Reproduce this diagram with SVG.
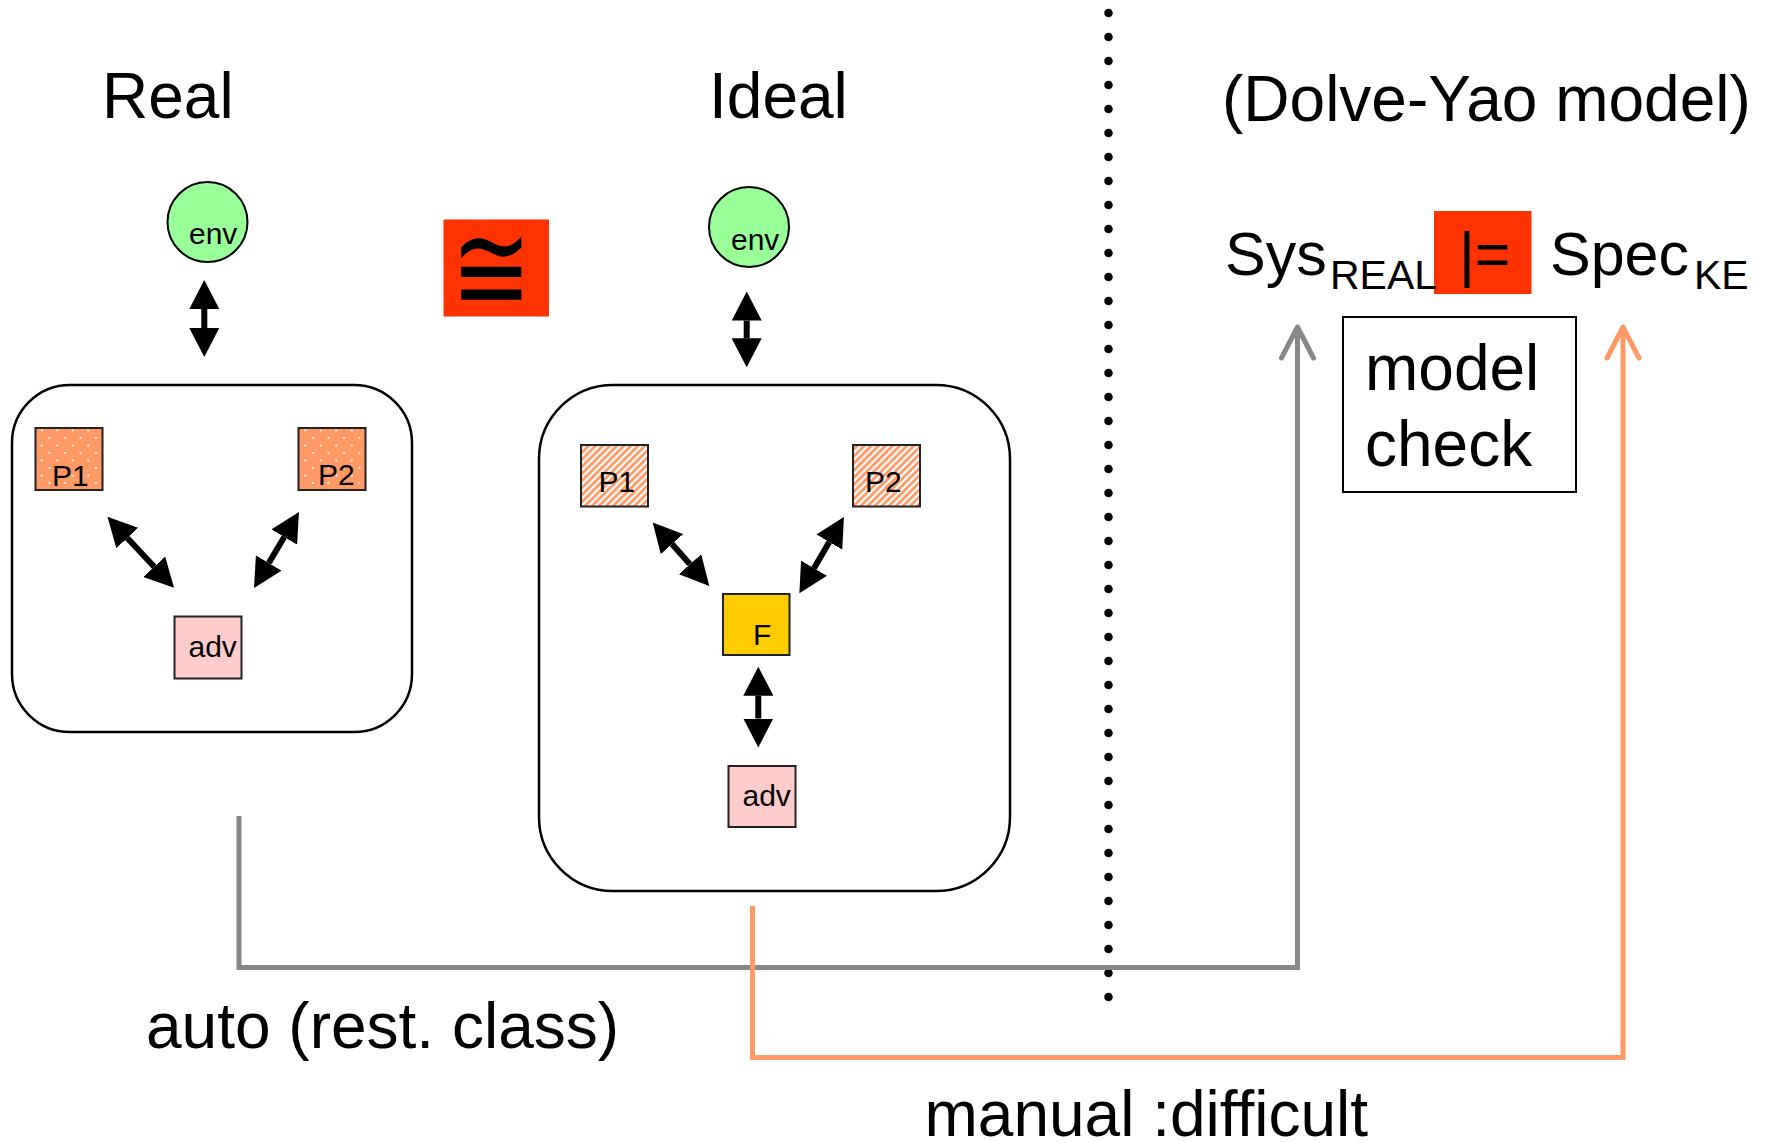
<svg xmlns="http://www.w3.org/2000/svg" width="1770" height="1142" viewBox="0 0 1770 1142">
<style>
text{font-family:"Liberation Sans",Arial,sans-serif;fill:#000}
.big{font-size:64px}
.mid{font-size:61px}
.sub{font-size:41px}
.sm{font-size:30px}
.panel{fill:#fff;stroke:#000;stroke-width:2.5}
.box{stroke:#222;stroke-width:2}
.env{fill:#99FF99;stroke:#000;stroke-width:2}
.dbl{stroke:#000;stroke-width:6;fill:none;marker-start:url(#ah);marker-end:url(#ah)}
.conn{fill:none;stroke-width:5}
.grey{stroke:#888}
.orng{stroke:#FF9966}
.chev{fill:none;stroke-width:5;stroke-linecap:round;stroke-linejoin:round}
</style>
<defs>
<marker id="ah" markerUnits="userSpaceOnUse" viewBox="0 0 30 30" refX="0" refY="15" markerWidth="30" markerHeight="30" orient="auto-start-reverse">
<path d="M0,0 L29,15 L0,30 Z" fill="#000"/>
</marker>
<pattern id="dots" patternUnits="userSpaceOnUse" width="15.5" height="15" x="0" y="0">
<rect width="15.5" height="15" fill="#FF9966"/>
<circle cx="3" cy="3" r="1" fill="#fff"/>
<circle cx="10.75" cy="10.5" r="1" fill="#fff"/>
</pattern>
<pattern id="hatch" patternUnits="userSpaceOnUse" width="5" height="5" patternTransform="rotate(45)">
<rect width="5" height="5" fill="#fff"/>
<rect width="2.8" height="5" fill="#FF9966"/>
</pattern>
</defs>
<rect width="1770" height="1142" fill="#fff"/>

<g id="titles">
<text class="big" x="102" y="118">Real</text>
<text class="big" x="709" y="118">Ideal</text>
<text class="big" x="1222" y="121">(Dolve-Yao model)</text>
</g>

<g id="real-panel"><rect class="panel" x="12" y="385" width="400" height="347" rx="58" ry="58"/></g>
<g id="ideal-panel"><rect class="panel" x="539" y="385" width="471" height="506" rx="74" ry="74"/></g>

<g id="real-env"><circle class="env" cx="207.5" cy="222" r="40"/><text class="sm" x="189" y="243.6">env</text></g>
<g id="real-p1"><rect class="box" x="35.5" y="428" width="67" height="62" fill="url(#dots)"/><text class="sm" x="52" y="485.5" font-size="29">P1</text></g>
<g id="real-p2"><rect class="box" x="298.5" y="428" width="67" height="62" fill="url(#dots)"/><text class="sm" x="318" y="484.5" font-size="29">P2</text></g>
<g id="real-adv"><rect class="box" x="174.5" y="616.5" width="67" height="62" fill="#FFCCCC"/><text class="sm" x="188.5" y="656.8">adv</text></g>

<g id="cong"><rect x="443.5" y="219.5" width="105.5" height="97" fill="#FF3300"/><text transform="matrix(1 0 0 1.3 491.5 311)" x="0" y="0" text-anchor="middle" font-size="96" style="font-family:'DejaVu Serif','Liberation Serif',serif">≅</text></g>

<g id="ideal-env"><circle class="env" cx="749" cy="227" r="40"/><text class="sm" x="731" y="250">env</text></g>
<g id="ideal-p1"><rect class="box" x="581" y="445" width="67" height="61.5" fill="url(#hatch)"/><text class="sm" x="598.5" y="492" font-size="29">P1</text></g>
<g id="ideal-p2"><rect class="box" x="853" y="445" width="67" height="61.5" fill="url(#hatch)"/><text class="sm" x="865" y="492" font-size="29">P2</text></g>
<g id="ideal-f"><rect class="box" x="723" y="594" width="66.5" height="61" fill="#FFCC00"/><text class="sm" x="753" y="644.6" font-size="28">F</text></g>
<g id="ideal-adv"><rect class="box" x="728.5" y="766" width="67" height="61" fill="#FFCCCC"/><text class="sm" x="742.5" y="805.8">adv</text></g>

<g id="divider"><line x1="1108.5" y1="13" x2="1108.5" y2="999" stroke="#000" stroke-width="8.5" stroke-dasharray="0 24" stroke-linecap="round"/></g>

<g id="formula">
<rect x="1434" y="211" width="97.5" height="83" fill="#FF3300"/>
<text class="mid" x="1225" y="275">Sys</text>
<text class="sub" x="1330" y="289">REAL</text>
<text class="mid" x="1459" y="275">|=</text>
<text class="mid" x="1550" y="275">Spec</text>
<text class="sub" x="1694" y="289">KE</text>
</g>

<g id="model-check">
<rect x="1343" y="317" width="233" height="175" fill="#fff" stroke="#000" stroke-width="2"/>
<text class="big" x="1365" y="390">model</text>
<text class="big" x="1365" y="466">check</text>
</g>

<g id="connectors">
<line class="dbl" x1="204.3" y1="309" x2="204.3" y2="328"/>
<line class="dbl" x1="127.3" y1="538" x2="154.2" y2="566.7"/>
<line class="dbl" x1="284.2" y1="537" x2="268.8" y2="563"/>
<line class="dbl" x1="746.7" y1="320.6" x2="746.7" y2="338.3"/>
<line class="dbl" x1="672" y1="544.1" x2="690" y2="564.3"/>
<line class="dbl" x1="829.3" y1="542" x2="814" y2="568.2"/>
<line class="dbl" x1="758.3" y1="695.7" x2="758.3" y2="718.5"/>
<path class="conn grey" d="M239,816 V967.5 H1297.5 V329"/>
<polyline class="chev grey" points="1281.5,358 1297.5,327 1313.5,358"/>
<path class="conn orng" d="M752.5,906 V1057.5 H1623 V329"/>
<polyline class="chev orng" points="1607,358 1623,327 1639,358"/>
</g>

<g id="labels">
<text class="big" x="146" y="1047.5">auto (rest. class)</text>
<text class="big" x="924.5" y="1136">manual :difficult</text>
</g>
</svg>
